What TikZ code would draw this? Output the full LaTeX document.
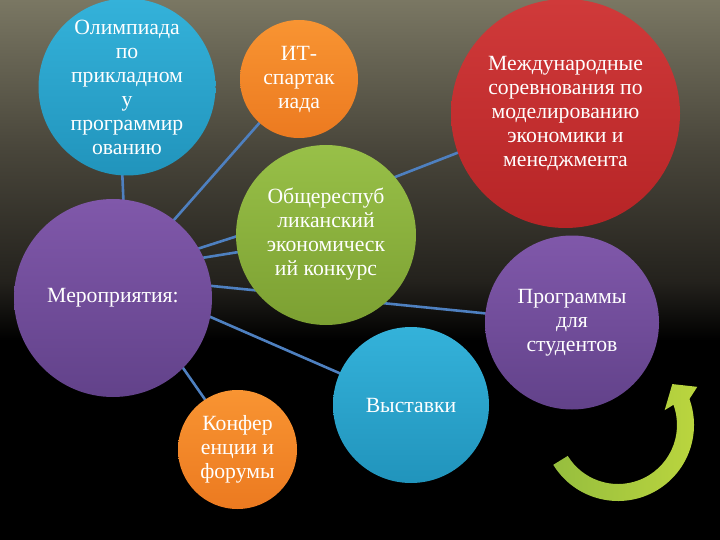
\documentclass[tikz,border=0pt]{standalone}
\usepackage{fontspec}
\setmainfont{Liberation Serif}
\usetikzlibrary{calc}
\definecolor{bga}{RGB}{122,119,99}
\definecolor{bgb}{RGB}{72,69,58}
\definecolor{bgc}{RGB}{36,34,29}
\definecolor{linkblue}{RGB}{78,128,192}
\definecolor{blueT}{RGB}{52,178,218}
\definecolor{blueB}{RGB}{33,148,188}
\definecolor{orangeT}{RGB}{248,148,50}
\definecolor{orangeB}{RGB}{236,122,32}
\definecolor{redT}{RGB}{208,58,58}
\definecolor{redB}{RGB}{182,36,38}
\definecolor{greenT}{RGB}{152,192,72}
\definecolor{greenB}{RGB}{124,160,50}
\definecolor{purpleT}{RGB}{128,88,170}
\definecolor{purpleB}{RGB}{98,66,138}
\definecolor{arrowL}{RGB}{150,190,62}
\definecolor{arrowR}{RGB}{188,214,62}
\pgfdeclareverticalshading{bgshade}{100bp}{color(0bp)=(black); color(43.5bp)=(black); color(49bp)=(bgc); color(61bp)=(bgb); color(75bp)=(bga); color(100bp)=(bga)}
\pgfdeclarelayer{back}
\pgfsetlayers{back,main}
\tikzset{
  bub/.style={circle, inner sep=0pt, text=white, align=center,
    font=\fontsize{21.7}{24}\selectfont},
  conn/.style={draw=linkblue, line width=2.6pt, shorten <=-3pt, shorten >=-3pt},
}
\begin{document}
\begin{tikzpicture}[x=1pt,y=-1pt]
\useasboundingbox (0,0) rectangle (720,540);
\clip (0,0) rectangle (720,540);
\begin{pgfonlayer}{back}
\shade[shading=bgshade] (0,0) rectangle (720,540);
\end{pgfonlayer}

\node[bub, minimum size=177pt, top color=blueT, bottom color=blueB] (olymp) at (127,87)
  {Олимпиада\\по\\прикладном\\у\\программир\\ованию};
\node[bub, minimum size=118pt, top color=orangeT, bottom color=orangeB] (it) at (299,79)
  {ИТ-\\спартак\\иада};
\node[bub, minimum size=229pt, top color=redT, bottom color=redB] (red) at (565.5,113.5)
  {Международные\\соревнования по\\моделированию\\экономики и\\менеджмента};
\node[bub, minimum size=180pt, top color=greenT, bottom color=greenB] (green) at (326,235)
  {\raisebox{9pt}{\begin{tabular}{@{}c@{}}Общереспуб\\ликанский\\экономическ\\ий конкурс\end{tabular}}};
\node[bub, minimum size=198pt, top color=purpleT, bottom color=purpleB] (mer) at (113,298)
  {Мероприятия:};
\node[bub, minimum size=174pt, top color=purpleT, bottom color=purpleB] (prog) at (572,322.5)
  {\raisebox{-3pt}{\begin{tabular}{@{}c@{}}Программы\\для\\студентов\end{tabular}}};
\node[bub, minimum size=156pt, top color=blueT, bottom color=blueB] (vyst) at (411,405)
  {Выставки};
\node[bub, minimum size=119pt, top color=orangeT, bottom color=orangeB] (konf) at (237.5,449.5)
  {Конфер\\енции и\\форумы};

\begin{pgfonlayer}{back}
\draw[conn] (olymp.-93) -- (mer.84);
\draw[conn] (mer.52.6) -- (it.228.4);
\draw[conn] (mer.30.4) -- (green.181);
\draw[conn] (mer.24) -- (green.191);
\draw[conn] (green.40.9) -- (red.200);
\draw[conn] (mer.7.5) -- (prog.174);
\draw[conn] (mer.-11.4) -- (vyst.156);
\draw[conn] (mer.-45.8) -- (konf.123.8);
\end{pgfonlayer}

\coordinate (C) at (618,425);
\shade[left color=arrowL, right color=arrowR]
  ($(C)+(-211.6:76)$) arc[start angle=-211.6, end angle=-380, radius=76]
  -- ($(C)+(-25.7:88)$) -- ($(C)+(-37:68)$) -- ($(C)+(-17.7:49)$)
  -- ($(C)+(-380:59)$) arc[start angle=-380, end angle=-211.6, radius=59] -- cycle;
\end{tikzpicture}
\end{document}
